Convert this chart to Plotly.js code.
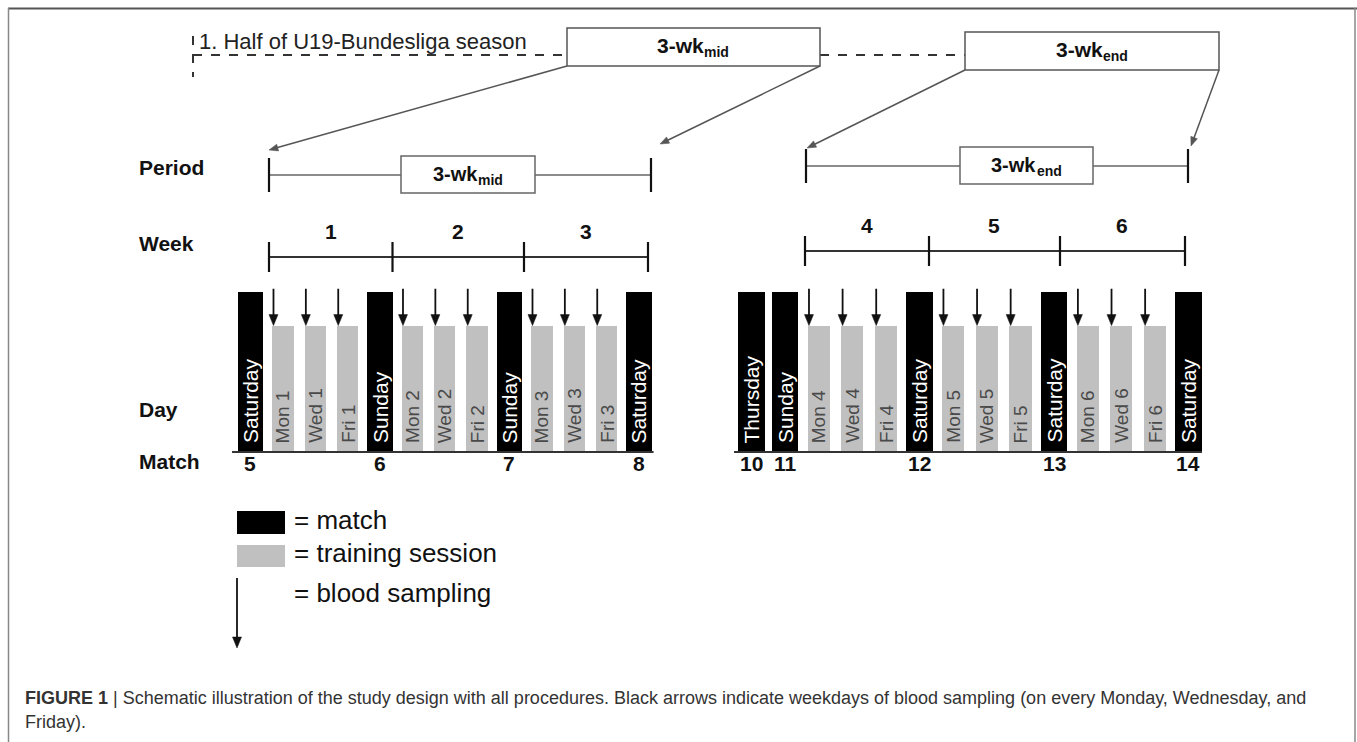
<!DOCTYPE html>
<html><head><meta charset="utf-8">
<script src="https://cdn.plot.ly/plotly-3.0.1.min.js"></script>
<style>html,body{margin:0;padding:0;background:#fff}#chart{width:1357px;height:742px}</style>
</head><body><div id="chart"></div>
<script>
// ---------------- data ----------------
const leftDays = ['Saturday','Mon 1','Wed 1','Fri 1','Sunday','Mon 2','Wed 2','Fri 2','Sunday','Mon 3','Wed 3','Fri 3','Saturday'];
const leftKinds = ['match','training','training','training','match','training','training','training','match','training','training','training','match'];
const leftMatchNumbers = [5, 6, 7, 8];
const rightDays = ['Thursday','Sunday','Mon 4','Wed 4','Fri 4','Saturday','Mon 5','Wed 5','Fri 5','Saturday','Mon 6','Wed 6','Fri 6','Saturday'];
const rightKinds = ['match','match','training','training','training','match','training','training','training','match','training','training','training','match'];
const rightMatchNumbers = [10, 11, 12, 13, 14];
const leftWeeks = [1, 2, 3];
const rightWeeks = [4, 5, 6];
const barHeight = {match: 1.0, training: 0.79};
const samplingDays = ['Mon', 'Wed', 'Fri'];
const periodMain = '3-wk';
const periodNames = ['mid', 'end'];
const rowLabels = ['Period', 'Week', 'Day', 'Match'];
const legendItems = ['= match', '= training session', '= blood sampling'];
const captionBold = 'FIGURE 1';
const captionLine1 = '| Schematic illustration of the study design with all procedures. Black arrows indicate weekdays of blood sampling (on every Monday, Wednesday, and';
const captionLine2 = 'Friday).';
const seasonLabel = '1. Half of U19-Bundesliga season';

// ---------------- layout constants ----------------
const W = 1357, H = 742;
const px = v => v / W, py = v => 1 - v / H;
const FONT = 'Liberation Sans, Arial, sans-serif';
const L = {c0: 250.5, step: 32.375, range: [-0.7, 12.6], axis: 'x', yaxis: 'y'};
const R = {c0: 751.5, step: 33.615, range: [-0.7, 13.6], axis: 'x2', yaxis: 'y2'};
const toSlot = (P, pix) => (pix - P.c0) / P.step;
const BASE = 452, UNIT = 160;
const YR = [-0.05, 1.05];
const ydom = [py(BASE - UNIT * YR[0]), py(BASE - UNIT * YR[1])];
const xdom = P => [px(P.c0 + P.step * P.range[0]), px(P.c0 + P.step * P.range[1])];

const traces = [];
const shapes = [];
const ann = [];

function text(x, y, t, size, opts) {
  ann.push(Object.assign({xref: 'paper', yref: 'paper', x: px(x), y: py(y), text: t, showarrow: false,
    xanchor: 'center', yanchor: 'middle', font: {family: FONT, size: size, color: '#111'}}, opts || {}));
}
// "3-wk" with a bold subscript, centred at (cx, cy) in pixels
function periodText(cx, cy, sub, size) {
  const subSize = Math.round(size * 0.68);
  const wMain = 2.223 * size, wSub = sub.length * 0.6 * subSize;
  const xs = cx - (wMain + wSub) / 2 + wMain;
  text(xs, cy, periodMain, size, {xanchor: 'right', borderpad: 0, borderwidth: 0,
    font: {family: FONT, size: size, color: '#111', weight: 'bold'}});
  text(xs + 0.5, cy + size * 0.28, sub, subSize, {xanchor: 'left', borderpad: 0, borderwidth: 0,
    font: {family: FONT, size: subSize, color: '#111', weight: 'bold'}});
}
// arrow in pixel space (tail x0,y0 -> tip x1,y1)
function arrowPx(x0, y0, x1, y1, color, width, head, hw) {
  const dx = x1 - x0, dy = y1 - y0, len = Math.hypot(dx, dy), ux = dx / len, uy = dy / len;
  const bx = x1 - ux * head, by = y1 - uy * head;
  shapes.push({type: 'line', xref: 'paper', yref: 'paper', x0: px(x0), y0: py(y0), x1: px(bx + ux), y1: py(by + uy),
    line: {color: color, width: width}});
  const lx = bx - uy * hw, ly = by + ux * hw, rx = bx + uy * hw, ry = by - ux * hw;
  shapes.push({type: 'path', xref: 'paper', yref: 'paper',
    path: `M ${px(lx)},${py(ly)} L ${px(x1)},${py(y1)} L ${px(rx)},${py(ry)} Z`,
    fillcolor: color, line: {color: color, width: 0.5}});
}

function panel(P, days, kinds, matchNums, weeks, geo) {
  const xs = days.map((d, i) => i);
  traces.push({
    type: 'bar', x: xs, y: kinds.map(k => barHeight[k]),
    width: kinds.map(k => k === 'match' ? 0.78 : 0.66),
    marker: {color: kinds.map(k => k === 'match' ? '#000000' : '#c0c0c0'), line: {width: 0}},
    xaxis: P.axis, yaxis: P.yaxis, hoverinfo: 'skip', showlegend: false
  });
  shapes.push({type: 'line', xref: P.axis, yref: P.yaxis, x0: geo.base[0], x1: geo.base[1], y0: 0, y1: 0,
    line: {color: '#333', width: 2}});
  const headL = 11 / UNIT, headW = 4.5 / P.step;
  days.forEach((d, i) => {
    const m = kinds[i] === 'match';
    ann.push({xref: P.axis, yref: P.yaxis, x: i, y: 0, yshift: 7, text: d, showarrow: false,
      textangle: -90, xanchor: 'center', yanchor: 'bottom',
      font: {family: FONT, size: m ? 21 : 19, color: m ? '#ffffff' : '#4a4a4a'}});
    if (samplingDays.includes(d.split(' ')[0])) {
      const ax = i - 0.29, tip = barHeight[kinds[i]];
      shapes.push({type: 'line', xref: P.axis, yref: P.yaxis, x0: ax, x1: ax, y0: 1.02, y1: tip + headL * 0.9,
        line: {color: '#111', width: 1.8}});
      shapes.push({type: 'path', xref: P.axis, yref: P.yaxis,
        path: `M ${ax - headW},${tip + headL} L ${ax},${tip} L ${ax + headW},${tip + headL} Z`,
        fillcolor: '#111', line: {color: '#111', width: 0.5}});
    }
  });
  let k = 0;
  kinds.forEach((t, i) => {
    if (t === 'match') {
      ann.push({xref: P.axis, yref: 'paper', x: i, y: py(geo.matchY), text: String(matchNums[k++]),
        showarrow: false, xanchor: 'center', yanchor: 'middle', font: {family: FONT, size: 21, color: '#111', weight: 'bold'}});
    }
  });
  const we = geo.weekEdges.map(p => toSlot(P, p));
  shapes.push({type: 'line', xref: P.axis, yref: 'paper', x0: we[0], x1: we[we.length - 1],
    y0: py(geo.weekY), y1: py(geo.weekY), line: {color: '#333', width: 2}});
  we.forEach(s => shapes.push({type: 'line', xref: P.axis, yref: 'paper', x0: s, x1: s,
    y0: py(geo.weekY - 15), y1: py(geo.weekY + 15), line: {color: '#111', width: 2.2}}));
  weeks.forEach((w, i) => ann.push({xref: P.axis, yref: 'paper', x: (we[i] + we[i + 1]) / 2,
    y: py(geo.weekY - 26), text: String(w), showarrow: false, xanchor: 'center', yanchor: 'middle',
    font: {family: FONT, size: 21, color: '#111', weight: 'bold'}}));
  const pe = geo.periodEdges.map(p => toSlot(P, p));
  shapes.push({type: 'line', xref: P.axis, yref: 'paper', x0: pe[0], x1: pe[1],
    y0: py(geo.periodY), y1: py(geo.periodY), line: {color: '#666', width: 1.5}});
  pe.forEach(s => shapes.push({type: 'line', xref: P.axis, yref: 'paper', x0: s, x1: s,
    y0: py(geo.periodY - 17), y1: py(geo.periodY + 17), line: {color: '#111', width: 2.2}}));
  const pb = geo.periodBox.map(p => toSlot(P, p));
  shapes.push({type: 'rect', xref: P.axis, yref: 'paper', x0: pb[0], x1: pb[1],
    y0: py(geo.periodY - 19), y1: py(geo.periodY + 18), fillcolor: '#fff', line: {color: '#666', width: 1.5}});
  periodText((geo.periodBox[0] + geo.periodBox[1]) / 2, geo.periodY - 1, geo.period, 20);
}

panel(L, leftDays, leftKinds, leftMatchNumbers, leftWeeks, {
  base: [-0.57, 12.45], matchY: 463, weekY: 257, weekEdges: [269, 392.5, 524, 648],
  periodY: 175, periodEdges: [269, 651], periodBox: [401, 535], period: periodNames[0]});
panel(R, rightDays, rightKinds, rightMatchNumbers, rightWeeks, {
  base: [-0.52, 13.4], matchY: 463, weekY: 251, weekEdges: [805, 929, 1060, 1185],
  periodY: 166, periodEdges: [806, 1188], periodBox: [960, 1093], period: periodNames[1]});

// row labels
const rowY = [168, 244, 409, 461];
rowLabels.forEach((t, i) => text(137, rowY[i], t, 21, {xanchor: 'left', font: {family: FONT, size: 21, color: '#111', weight: 'bold'}}));

// frame
shapes.push({type: 'line', xref: 'paper', yref: 'paper', x0: px(8), x1: px(1357), y0: py(8.5), y1: py(8.5), line: {color: '#555', width: 2}});
shapes.push({type: 'line', xref: 'paper', yref: 'paper', x0: px(8.5), x1: px(8.5), y0: py(8), y1: 0, line: {color: '#888', width: 1.5}});
shapes.push({type: 'line', xref: 'paper', yref: 'paper', x0: px(1355), x1: px(1355), y0: py(8), y1: 0, line: {color: '#888', width: 1.5}});

// top season row
shapes.push({type: 'line', xref: 'paper', yref: 'paper', x0: px(193), x1: px(567), y0: py(55), y1: py(55), line: {color: '#333', width: 2, dash: 'dash'}});
shapes.push({type: 'line', xref: 'paper', yref: 'paper', x0: px(193), x1: px(193), y0: py(36), y1: py(77), line: {color: '#333', width: 2, dash: 'dash'}});
shapes.push({type: 'line', xref: 'paper', yref: 'paper', x0: px(820), x1: px(965), y0: py(55), y1: py(55), line: {color: '#333', width: 2, dash: 'dash'}});
shapes.push({type: 'rect', xref: 'paper', yref: 'paper', x0: px(567), x1: px(820), y0: py(28), y1: py(66), fillcolor: '#fff', line: {color: '#555', width: 1.5}});
shapes.push({type: 'rect', xref: 'paper', yref: 'paper', x0: px(965), x1: px(1219), y0: py(32), y1: py(70), fillcolor: '#fff', line: {color: '#555', width: 1.5}});
text(197, 42, seasonLabel, 22, {xanchor: 'left', font: {family: FONT, size: 22, color: '#222'}});
periodText(693, 46, periodNames[0], 21);
periodText(1092, 50, periodNames[1], 21);
// zoom arrows: box corners -> period ends
[[567, 66, 269, 150], [820, 66, 660, 144], [965, 70, 807, 148], [1219, 70, 1191, 146]].forEach(a =>
  arrowPx(a[0], a[1], a[2], a[3], '#555', 1.5, 9, 3.5));

// legend
shapes.push({type: 'rect', xref: 'paper', yref: 'paper', x0: px(237), x1: px(285), y0: py(511), y1: py(534), fillcolor: '#000', line: {width: 0}});
shapes.push({type: 'rect', xref: 'paper', yref: 'paper', x0: px(237), x1: px(285), y0: py(545), y1: py(567), fillcolor: '#c0c0c0', line: {width: 0}});
arrowPx(237, 578, 237, 648, '#111', 1.8, 11, 4.5);
const legY = [520, 553, 593];
legendItems.forEach((t, i) => text(292, legY[i], t, 26, {xanchor: 'left'}));

// caption
text(24, 698, captionBold, 18, {xanchor: 'left', borderpad: 0, font: {family: FONT, size: 18, color: '#333', weight: 'bold'}});
text(112, 698, captionLine1, 18, {xanchor: 'left', borderpad: 0, font: {family: FONT, size: 18, color: '#333'}});
text(24, 722, captionLine2, 18, {xanchor: 'left', borderpad: 0, font: {family: FONT, size: 18, color: '#333'}});

const hidden = {visible: false, fixedrange: true};
const layout = {
  width: W, height: H, margin: {l: 0, r: 0, t: 0, b: 0},
  paper_bgcolor: '#fff', plot_bgcolor: 'rgba(0,0,0,0)', showlegend: false, bargap: 0,
  xaxis: Object.assign({domain: xdom(L), range: L.range, anchor: 'y'}, hidden),
  yaxis: Object.assign({domain: ydom, range: YR, anchor: 'x'}, hidden),
  xaxis2: Object.assign({domain: xdom(R), range: R.range, anchor: 'y2'}, hidden),
  yaxis2: Object.assign({domain: ydom, range: YR, anchor: 'x2'}, hidden),
  shapes: shapes, annotations: ann
};
Plotly.newPlot('chart', traces, layout, {displayModeBar: false, staticPlot: true});
</script></body></html>
